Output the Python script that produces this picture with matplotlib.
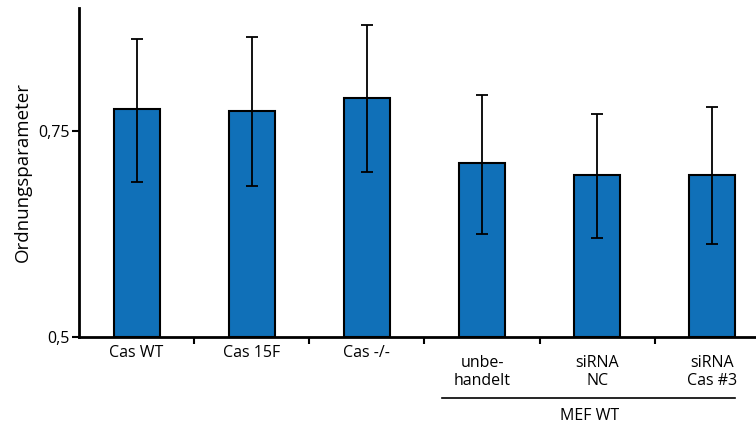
import numpy as np
import matplotlib.pyplot as plt
import matplotlib.transforms as mtransforms

# values
categories = ['Cas WT', 'Cas 15F', 'Cas -/-', 'unbe-\nhandelt', 'siRNA\nNC', 'siRNA\nCas #3']
means = [0.777, 0.775, 0.790, 0.711, 0.697, 0.697]
err_upper = [0.862, 0.865, 0.879, 0.794, 0.771, 0.779]
err_lower = [0.688, 0.683, 0.700, 0.625, 0.620, 0.613]
group_label = 'MEF WT'

plt.rcParams['font.family'] = ['Open Sans', 'DejaVu Sans']

fig = plt.figure(figsize=(7.56, 4.23), dpi=100)
ax = fig.add_axes([0.1045, 0.2033, 0.914, 0.778])

x = np.arange(len(categories))
means = np.array(means)
yerr = [means - np.array(err_lower), np.array(err_upper) - means]

ax.bar(x, means - 0.5, bottom=0.5, width=0.4, color='#1070b8',
       edgecolor='black', linewidth=1.5, zorder=2)
ax.errorbar(x, means, yerr=yerr, fmt='none', ecolor='black',
            elinewidth=1.3, capsize=4, capthick=1.3, zorder=3)

ax.set_xlim(-0.5, 5.5)
ax.set_ylim(0.5, 0.9)
ax.set_yticks([0.5, 0.75])
ax.set_yticklabels(['0,5', '0,75'], fontsize=11.5)
ax.set_ylabel('Ordnungsparameter', fontsize=13.5, labelpad=4)

# boundary ticks between categories, labels placed separately
ax.set_xticks(np.arange(0.5, 5.5, 1.0))
ax.set_xticklabels([])
ax.tick_params(axis='x', direction='out', length=5, width=1.5)
ax.tick_params(axis='y', direction='out', length=5, width=1.5, pad=2)

for s in ['top', 'right']:
    ax.spines[s].set_visible(False)
for s in ['left', 'bottom']:
    ax.spines[s].set_linewidth(2)

trans = mtransforms.blended_transform_factory(ax.transData, ax.transAxes)
for i, lab in enumerate(categories):
    yy = -0.024 if '\n' not in lab else -0.056
    ax.text(x[i], yy, lab, transform=trans, ha='center', va='top',
            fontsize=11.5, linespacing=1.1)

# group bracket under the last three categories
ax.plot([2.65, 5.2], [-0.185, -0.185], transform=trans, color='black',
        linewidth=1.2, clip_on=False)
ax.text(3.93, -0.215, group_label, transform=trans, ha='center', va='top',
        fontsize=11.5)

fig.savefig('out.png', dpi=100)
